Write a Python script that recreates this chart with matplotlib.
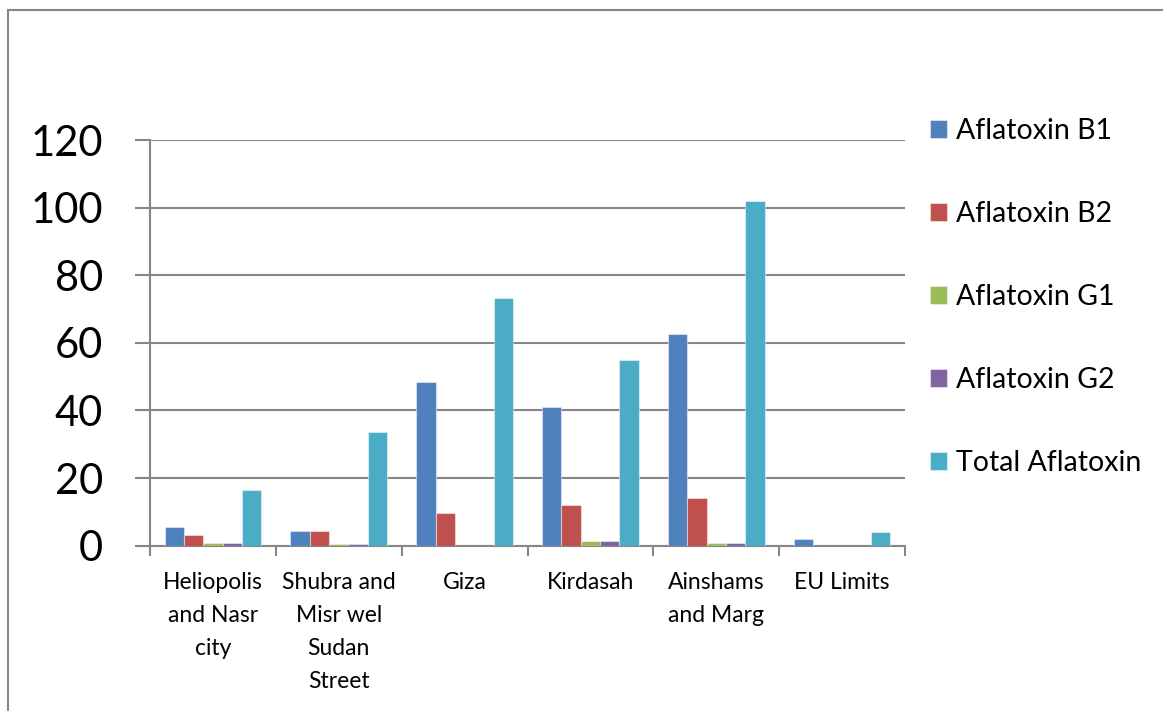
import numpy as np
import matplotlib
matplotlib.use("Agg")
import matplotlib.pyplot as plt
from matplotlib.lines import Line2D

plt.rcParams['font.family'] = ['Lato', 'DejaVu Sans']

# aflatoxin levels per district (ug/kg)
regions = ["Heliopolis\nand Nasr\ncity", "Shubra and\nMisr wel\nSudan\nStreet", "Giza",
           "Kirdasah", "Ainshams\nand Marg", "EU Limits"]
afla_b1 = [5.4, 4.4, 48.4, 41.0, 62.6, 2.0]
afla_b2 = [3.2, 4.4, 9.6, 11.9, 14.2, 0.0]
afla_g1 = [0.9, 0.6, 0.0, 1.4, 0.8, 0.0]
afla_g2 = [0.9, 0.6, 0.0, 1.4, 0.8, 0.0]
afla_total = [16.6, 33.7, 73.3, 54.9, 101.9, 4.0]

series_names = ["Aflatoxin B1", "Aflatoxin B2", "Aflatoxin G1", "Aflatoxin G2", "Total Aflatoxin"]
series_vals = [afla_b1, afla_b2, afla_g1, afla_g2, afla_total]
colors = ["#4F81BD", "#C0504D", "#9BBB59", "#8064A2", "#4BACC6"]
grey = "#868686"

W, H = 1163, 711
fig = plt.figure(figsize=(W / 100, H / 100), dpi=100)
ax = fig.add_axes([150 / W, 1 - 545.7 / H, (905 - 150) / W, (545.7 - 140) / H])

x = np.arange(len(regions)) + 0.5
bw = 0.1535
for k in range(5):
    ax.bar(x + (k - 2) * bw, series_vals[k], bw, color=colors[k],
           edgecolor=(1, 1, 1, 0.45), linewidth=0.8, label=series_names[k], zorder=3)

ax.set_xlim(0, len(regions))
ax.set_ylim(0, 120)
ax.set_yticks(np.arange(0, 121, 20))
ax.yaxis.grid(True, color=grey, linewidth=1.5, zorder=0)
ax.tick_params(axis='y', labelsize=30, length=11, width=1.5, color=grey, pad=23)

ax.set_xticks(x)
ax.set_xticklabels(regions, fontsize=16.5, linespacing=1.7, va='top')
ax.set_xticks(np.arange(len(regions) + 1), minor=True)
ax.tick_params(axis='x', which='major', length=0, pad=19)
ax.tick_params(axis='x', which='minor', length=7, width=1.5, color=grey)

for s in ['top', 'right']:
    ax.spines[s].set_visible(False)
for s in ['left', 'bottom']:
    ax.spines[s].set_color(grey)
    ax.spines[s].set_linewidth(1.5)

ax.legend(loc='upper left', bbox_to_anchor=(930 / W, 1 - 118 / H), bbox_transform=fig.transFigure,
          frameon=False, fontsize=20.5, labelspacing=2.0, handlelength=0.6, handleheight=0.6,
          handletextpad=0.33, borderpad=0, borderaxespad=0)

# outer chart frame (top and left edges only)
fig.add_artist(Line2D([8 / W, 8 / W], [0, 1 - 10 / H], color=grey, linewidth=1.5))
fig.add_artist(Line2D([8 / W, 1], [1 - 10 / H, 1 - 10 / H], color=grey, linewidth=1.5))

fig.savefig("out.png", dpi=100)
